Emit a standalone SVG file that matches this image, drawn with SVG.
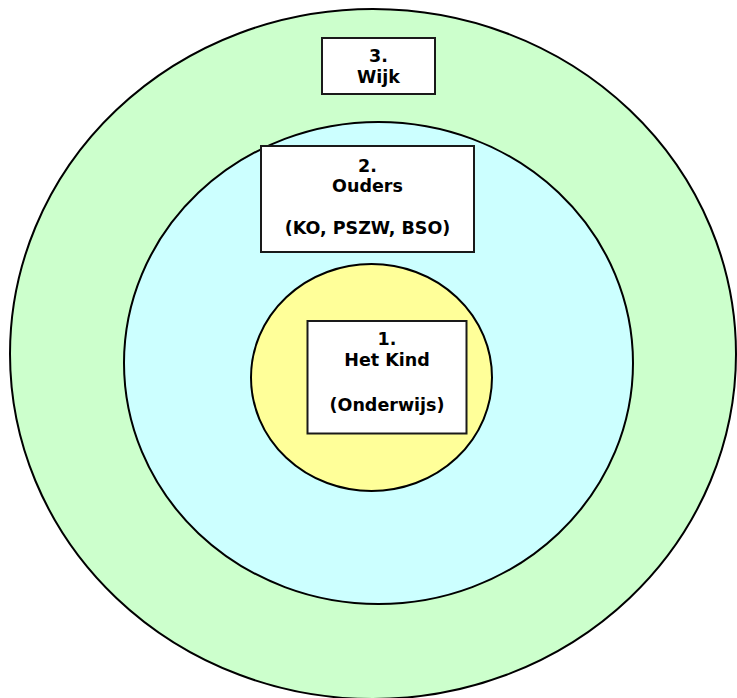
<svg xmlns="http://www.w3.org/2000/svg" width="737" height="698" viewBox="0 0 737 698">
<style>
.ring{stroke:#000;stroke-width:2}
.box{fill:#fff;stroke:#1a1a1a;stroke-width:2}
.lbl{font-family:"DejaVu Sans",Verdana,sans-serif;font-weight:bold;font-size:17.5px;fill:#000;text-anchor:middle}
</style>
<rect width="737" height="698" fill="#fff"/>
<g id="ring-wijk"><ellipse class="ring" cx="373" cy="354" rx="363" ry="345" fill="#ccffcc"/></g>
<g id="ring-ouders"><ellipse class="ring" cx="378.5" cy="363" rx="254.5" ry="241" fill="#ccffff"/></g>
<g id="ring-kind"><ellipse class="ring" cx="371.5" cy="377.5" rx="120.5" ry="113.5" fill="#ffff99"/></g>
<g id="connectors"></g>
<g id="node-wijk">
<rect class="box" x="322" y="38" width="113" height="56"/>
<text class="lbl" x="378.5" y="62">3.</text>
<text class="lbl" x="378.5" y="83">Wijk</text>
</g>
<g id="node-ouders">
<rect class="box" x="261" y="146" width="213" height="106"/>
<text class="lbl" x="367.5" y="171.5">2.</text>
<text class="lbl" x="367.5" y="192">Ouders</text>
<text class="lbl" x="367.5" y="233.5">(KO, PSZW, BSO)</text>
</g>
<g id="node-kind">
<rect class="box" x="307.5" y="321" width="159" height="112.5"/>
<text class="lbl" x="387" y="344.5">1.</text>
<text class="lbl" x="387" y="365.5">Het Kind</text>
<text class="lbl" x="387" y="410.5">(Onderwijs)</text>
</g>
</svg>
